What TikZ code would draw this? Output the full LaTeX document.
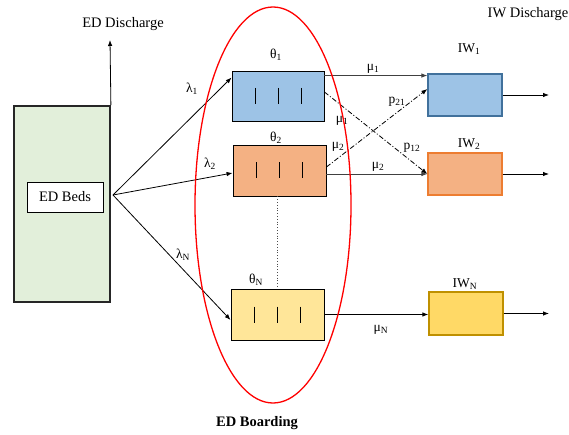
\documentclass[tikz,border=0pt]{standalone}
\usepackage{fontspec}
\setmainfont{Liberation Serif}
\usetikzlibrary{arrows.meta}
\definecolor{edgreen}{HTML}{E2EFDA}
\definecolor{qblue}{HTML}{9DC3E6}
\definecolor{qorange}{HTML}{F4B183}
\definecolor{qyellow}{HTML}{FFE699}
\definecolor{iwyellow}{HTML}{FFD966}
\definecolor{bdblue}{HTML}{41719C}
\definecolor{bdorange}{HTML}{ED7D31}
\definecolor{bdyellow}{HTML}{BF9000}
\tikzset{
  big/.style={font=\fontsize{14.5}{17}\selectfont},
  lab/.style={font=\fontsize{13.5}{15}\selectfont, inner sep=0pt},
  qbox/.style={draw=black, line width=0.9pt, minimum width=93pt, minimum height=51pt, inner sep=0pt},
  iwbox/.style={line width=1.3pt, minimum width=74pt, minimum height=42pt, inner sep=0pt},
  arr/.style={-{Latex[length=6pt,width=4.5pt]}, line width=0.8pt},
  dd/.style={arr, dash pattern=on 5pt off 2pt on 1pt off 2pt},
  bar/.style={line width=0.9pt}
}
\begin{document}
\begin{tikzpicture}[x=1pt,y=-1pt]
\useasboundingbox (0,0) rectangle (569,435);
% ED
\node[draw=black!85, line width=1.8pt, fill=edgreen, minimum width=96pt, minimum height=196pt, inner sep=0pt] (edbig) at (62,204) {};
\node[draw=black, fill=white, line width=0.6pt, minimum width=76pt, minimum height=30pt, inner sep=0pt, big] (edbeds) at (65,197) {ED Beds};
\coordinate (edtop) at (110,40);
\draw[arr] (edbig.north east) -- (edtop);
\node[big] (eddis) at (123,24) {ED Discharge};
\node[big] (iwdis) at (528,14) {IW Discharge};
\node[big, font=\fontsize{14.5}{17}\selectfont\bfseries] (board) at (257,423) {ED Boarding};
% queues
\node[qbox, fill=qblue, minimum width=92pt, minimum height=50pt] (q1) at (278,96) {};
\node[qbox, fill=qorange] (q2) at (279.5,170.5) {};
\node[qbox, fill=qyellow] (qN) at (277.5,314.5) {};
\foreach \q in {q1,q2,qN}{
  \foreach \dx in {-23,0,23}{
    \draw[bar] ([xshift=\dx pt, yshift=8pt]\q.center) -- ([xshift=\dx pt, yshift=-8pt]\q.center);
  }
}
\draw[dotted, line width=0.8pt, black!70] (qN.north |- q2.south) -- (qN.north);
\node[lab] (t1) at (276,55) {θ\textsubscript{1}};
\node[lab] (t2) at (276,138) {θ\textsubscript{2}};
\node[lab] (tN) at (256,280) {θ\textsubscript{N}};
% IW
\node[iwbox, draw=bdblue, fill=qblue] (iw1) at (465,95) {};
\node[iwbox, draw=bdorange, fill=qorange] (iw2) at (465,174) {};
\node[iwbox, draw=bdyellow, fill=iwyellow, minimum height=43pt] (iwN) at (466,313.5) {};
\node[lab] (l1) at (469,49) {IW\textsubscript{1}};
\node[lab] (l2) at (469,144) {IW\textsubscript{2}};
\node[lab] (lN) at (465,284) {IW\textsubscript{N}};
\coordinate (x1) at (549,95);
\coordinate (x2) at (549,174);
\coordinate (xN) at (549,313.5);
\draw[arr] (iw1.east) -- (x1);
\draw[arr] (iw2.east) -- (x2);
\draw[arr] (iwN.east) -- (xN);
% fan
\coordinate (fan) at (113,195);
\draw[arr] (fan) -- ([yshift=-7pt]q1.north west);
\draw[arr] (fan) -- ([yshift=-2.5pt]q2.west);
\draw[arr] (fan) -- ([yshift=-5.5pt]qN.west);
\node[lab] (la1) at (192,89) {λ\textsubscript{1}};
\node[lab] (la2) at (210,164) {λ\textsubscript{2}};
\node[lab] (laN) at (183,255) {λ\textsubscript{N}};
% service
\draw[arr, black!75] ([yshift=-5pt]q1.north east) -- ([yshift=-5pt]q1.north east -| iw1.west);
\draw[arr, black!75] (q2.east |- iw2.west) -- (iw2.west);
\draw[arr] (qN.east) -- (qN.east -| iwN.west);
\draw[dd] ([yshift=4pt]q1.east) -- (iw2.west);
\draw[dd] ([yshift=3.5pt]q2.east) -- ([yshift=6pt]iw1.west);
\node[lab] (m1) at (373,69) {μ\textsubscript{1}};
\node[lab] (m2) at (378,167) {μ\textsubscript{2}};
\node[lab] (m1b) at (342,121) {μ\textsubscript{1}};
\node[lab] (m2b) at (338,147) {μ\textsubscript{2}};
\node[lab] (p21) at (397,102) {p\textsubscript{21}};
\node[lab] (p12) at (412,148) {p\textsubscript{12}};
\node[lab] (mN) at (381,330) {μ\textsubscript{N}};
% boarding ellipse
\draw[red, line width=1.3pt] (273,205) ellipse [x radius=78pt, y radius=198pt];
\end{tikzpicture}
\end{document}
